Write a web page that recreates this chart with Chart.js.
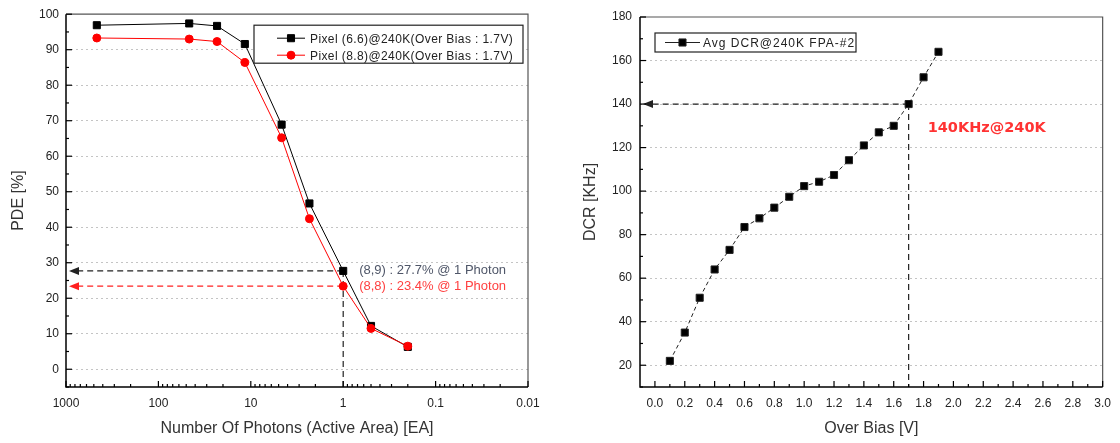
<!DOCTYPE html>
<html>
<head>
<meta charset="utf-8">
<script src="https://cdn.jsdelivr.net/npm/chart.js@4.4.1/dist/chart.umd.min.js"></script>
<style>
html, body { margin: 0; padding: 0; background: #fff; }
#wrap { display: flex; width: 1120px; height: 443px; }
canvas { display: block; }
</style>
</head>
<body>
<div id="wrap">
	<canvas id="pde" width="560" height="443"></canvas>
	<canvas id="dcr" width="560" height="443"></canvas>
</div>
<script>
// left panel: PDE vs number of photons
var photons = [464, 46.4, 23.2, 11.6, 4.64, 2.32, 1, 0.5, 0.2];
var pde66 = [96.9, 97.4, 96.7, 91.6, 68.9, 46.7, 27.7, 12.2, 6.3];
var pde88 = [93.3, 93.0, 92.3, 86.4, 65.2, 42.4, 23.4, 11.5, 6.5];
var photonTicks = [1000, 100, 10, 1, 0.1, 0.01];
var pdeTicks = [0, 10, 20, 30, 40, 50, 60, 70, 80, 90, 100];

// right panel: DCR vs over bias
var overBias = [0.1, 0.2, 0.3, 0.4, 0.5, 0.6, 0.7, 0.8, 0.9, 1.0, 1.1, 1.2, 1.3, 1.4, 1.5, 1.6, 1.7, 1.8, 1.9];
var dcr = [22, 35, 51, 64, 73, 83.5, 87.5, 92.4, 97.4, 102.3, 104.3, 107.4, 114.2, 121, 127, 130, 140, 152.3, 164];
var biasTicks = [0.0, 0.2, 0.4, 0.6, 0.8, 1.0, 1.2, 1.4, 1.6, 1.8, 2.0, 2.2, 2.4, 2.6, 2.8, 3.0];
var dcrTicks = [20, 40, 60, 80, 100, 120, 140, 160, 180];

var FONT = 'Liberation Sans, Arial, sans-serif';

// minor tick values
var photonMinor = [];
[0.01, 0.1, 1, 10, 100].forEach(function(d) {
	for (var k = 2; k <= 9; k++) photonMinor.push(k * d);
});
var pdeMinor = [-5, 5, 15, 25, 35, 45, 55, 65, 75, 85, 95];
var biasMinor = [];
for (var b = 1; b < 30; b += 2) biasMinor.push(b / 10);
var dcrMinor = [10, 30, 50, 70, 90, 110, 130, 150, 170];

var panelDecor = {
	id: 'panelDecor',
	beforeDatasetsDraw: function(chart, args, opts) {
		var ctx = chart.ctx, a = chart.chartArea, xs = chart.scales.x, ys = chart.scales.y;
		(opts.guides || []).forEach(function(g) {
			var px = xs.getPixelForValue(g.x), py = ys.getPixelForValue(g.y);
			ctx.save();
			ctx.strokeStyle = g.color;
			ctx.fillStyle = g.color;
			ctx.lineWidth = 1.2;
			ctx.setLineDash([6, 4]);
			ctx.beginPath();
			ctx.moveTo(px, py);
			ctx.lineTo(a.left + 10, py);
			ctx.stroke();
			if (g.down) {
				ctx.strokeStyle = '#222';
				ctx.beginPath();
				ctx.moveTo(px, py);
				ctx.lineTo(px, a.bottom);
				ctx.stroke();
			}
			ctx.setLineDash([]);
			ctx.beginPath();
			ctx.moveTo(a.left + 3, py);
			ctx.lineTo(a.left + 13, py - 4);
			ctx.lineTo(a.left + 13, py + 4);
			ctx.closePath();
			ctx.fill();
			ctx.restore();
		});
		(opts.notes || []).forEach(function(n) {
			var px = xs.getPixelForValue(n.x) + n.dx, py = ys.getPixelForValue(n.y);
			ctx.save();
			ctx.font = n.font;
			ctx.fillStyle = n.color;
			ctx.textAlign = 'left';
			ctx.textBaseline = 'middle';
			ctx.fillText(n.text, px, py);
			ctx.restore();
		});
	},
	afterDraw: function(chart, args, opts) {
		var ctx = chart.ctx, a = chart.chartArea, xs = chart.scales.x, ys = chart.scales.y;
		ctx.save();
		// frame
		ctx.strokeStyle = '#555';
		ctx.lineWidth = 1.2;
		ctx.beginPath();
		ctx.moveTo(a.left, a.top);
		ctx.lineTo(a.right, a.top);
		ctx.lineTo(a.right, a.bottom);
		ctx.stroke();
		ctx.strokeStyle = '#000';
		ctx.lineWidth = 1.5;
		ctx.beginPath();
		ctx.moveTo(a.left, a.top);
		ctx.lineTo(a.left, a.bottom);
		ctx.lineTo(a.right, a.bottom);
		ctx.stroke();
		// inward ticks
		ctx.lineWidth = 1.2;
		var tickX = function(v, len) {
			var p = xs.getPixelForValue(v);
			ctx.beginPath(); ctx.moveTo(p, a.bottom); ctx.lineTo(p, a.bottom - len); ctx.stroke();
		};
		var tickY = function(v, len) {
			var p = ys.getPixelForValue(v);
			ctx.beginPath(); ctx.moveTo(a.left, p); ctx.lineTo(a.left + len, p); ctx.stroke();
		};
		xs.ticks.forEach(function(t) { tickX(t.value, 6); });
		(opts.minorX || []).forEach(function(v) { tickX(v, 3); });
		ys.ticks.forEach(function(t) { tickY(t.value, 6); });
		(opts.minorY || []).forEach(function(v) { tickY(v, 3); });

		// legend
		var L = opts.legend;
		if (L) {
			var bx = a.left + L.left, by = a.top + L.top;
			ctx.fillStyle = '#fff';
			ctx.fillRect(bx, by, L.width, L.height);
			ctx.strokeStyle = '#222';
			ctx.lineWidth = 1.2;
			ctx.strokeRect(bx, by, L.width, L.height);
			chart.data.datasets.forEach(function(ds, i) {
				var cy = by + L.first + i * L.row;
				ctx.strokeStyle = ds.borderColor;
				ctx.fillStyle = ds.backgroundColor;
				ctx.lineWidth = 1;
				ctx.beginPath();
				ctx.moveTo(bx + L.lineFrom, cy);
				ctx.lineTo(bx + L.lineTo, cy);
				ctx.stroke();
				Chart.helpers.drawPoint(ctx, {pointStyle: ds.pointStyle, radius: ds.pointRadius, borderWidth: 1}, bx + (L.lineFrom + L.lineTo) / 2, cy);
				ctx.fillStyle = '#222';
				ctx.font = L.font;
				ctx.letterSpacing = L.spacing || '0px';
				ctx.textAlign = 'left';
				ctx.textBaseline = 'middle';
				ctx.fillText(ds.label, bx + L.textX, cy + 1);
				ctx.letterSpacing = '0px';
			});
		}
		ctx.restore();
	}
};

var tickFont = { family: FONT, size: 12 };
var titleFont = { family: FONT, size: 16 };

var pdeChart = new Chart(document.getElementById('pde'), {
	type: 'line',
	data: {
		datasets: [{
			label: 'Pixel (6.6)@240K(Over Bias : 1.7V)',
			data: photons.map(function(x, i) { return { x: x, y: pde66[i] }; }),
			borderColor: '#000',
			backgroundColor: '#000',
			borderWidth: 1,
			pointStyle: 'rect',
			pointRadius: 5,
			order: 1
		}, {
			label: 'Pixel (8.8)@240K(Over Bias : 1.7V)',
			data: photons.map(function(x, i) { return { x: x, y: pde88[i] }; }),
			borderColor: '#ff0000',
			backgroundColor: '#ff0000',
			borderWidth: 1,
			pointStyle: 'circle',
			pointRadius: 4,
			order: 0
		}]
	},
	options: {
		responsive: false,
		animation: false,
		devicePixelRatio: 1,
		layout: { padding: { top: 14, right: 32, left: 0, bottom: 0 } },
		plugins: {
			legend: { display: false },
			tooltip: { enabled: false },
			panelDecor: {
				minorX: photonMinor,
				minorY: pdeMinor,
				guides: [
					{ x: 1, y: 27.7, color: '#222', down: true },
					{ x: 1, y: 23.4, color: '#ff2020', down: false }
				],
				notes: [
					{ x: 1, y: 27.7, dx: 16, text: '(8,9) : 27.7% @ 1 Photon', color: '#4f5668', font: '13px ' + FONT },
					{ x: 1, y: 23.4, dx: 16, text: '(8,8) : 23.4% @ 1 Photon', color: '#ff4040', font: '13px ' + FONT }
				],
				legend: { left: 188, top: 11, width: 269, height: 38, first: 13, row: 17, lineFrom: 23, lineTo: 51, textX: 56, font: '12px ' + FONT, spacing: '0.4px' }
			}
		},
		scales: {
			x: {
				type: 'logarithmic',
				reverse: true,
				min: 0.01,
				max: 1000,
				afterBuildTicks: function(s) { s.ticks = photonTicks.map(function(v) { return { value: v }; }); },
				afterFit: function(s) { s.height = 56; },
				grid: { display: false, drawTicks: false },
				border: { display: false },
				ticks: {
					autoSkip: false, maxRotation: 0, padding: 9, color: '#222', font: tickFont,
					callback: function(v) { return String(v); }
				},
				title: { display: true, text: 'Number Of Photons (Active Area) [EA]', color: '#333', font: titleFont, padding: { top: 0, bottom: 5 } }
			},
			y: {
				min: -5,
				max: 100,
				afterBuildTicks: function(s) { s.ticks = pdeTicks.map(function(v) { return { value: v }; }); },
				afterFit: function(s) { s.width = 66; },
				grid: { drawTicks: false, color: function(c) { return c.tick && c.tick.value === 100 ? 'rgba(0,0,0,0)' : '#c4c4c4'; }, lineWidth: 1 },
				border: { display: false, dash: [2, 3] },
				ticks: { padding: 7, color: '#222', font: tickFont },
				title: { display: true, text: 'PDE [%]', color: '#333', font: titleFont, padding: { top: 9, bottom: 0 } }
			}
		}
	},
	plugins: [panelDecor]
});

var dcrChart = new Chart(document.getElementById('dcr'), {
	type: 'line',
	data: {
		datasets: [{
			label: 'Avg DCR@240K FPA-#2',
			data: overBias.map(function(x, i) { return { x: x, y: dcr[i] }; }),
			borderColor: '#222',
			backgroundColor: '#000',
			borderWidth: 1,
			borderDash: [4, 3],
			pointStyle: 'rect',
			pointRadius: 5
		}]
	},
	options: {
		responsive: false,
		animation: false,
		devicePixelRatio: 1,
		layout: { padding: { top: 17, right: 13, left: 0, bottom: 0 } },
		plugins: {
			legend: { display: false },
			tooltip: { enabled: false },
			panelDecor: {
				minorX: biasMinor,
				minorY: dcrMinor,
				guides: [
					{ x: 1.7, y: 140, color: '#222', down: true }
				],
				notes: [
					{ x: 1.7, y: 129, dx: 19, text: '140KHz@240K', color: '#ff3333', font: 'bold 14.5px DejaVu Sans, sans-serif' }
				],
				legend: { left: 15, top: 16, width: 201, height: 19, first: 9.5, row: 17, lineFrom: 10, lineTo: 45, textX: 48, font: '12px ' + FONT, spacing: '1px' }
			}
		},
		scales: {
			x: {
				type: 'linear',
				min: -0.1,
				max: 3.0,
				afterBuildTicks: function(s) { s.ticks = biasTicks.map(function(v) { return { value: v }; }); },
				afterFit: function(s) { s.height = 56; },
				grid: { display: false, drawTicks: false },
				border: { display: false },
				ticks: {
					autoSkip: false, maxRotation: 0, padding: 9, color: '#222', font: tickFont,
					callback: function(v) { return Number(v).toFixed(1); }
				},
				title: { display: true, text: 'Over Bias [V]', color: '#333', font: titleFont, padding: { top: 0, bottom: 5 } }
			},
			y: {
				min: 10,
				max: 180,
				afterBuildTicks: function(s) { s.ticks = dcrTicks.map(function(v) { return { value: v }; }); },
				afterFit: function(s) { s.width = 80; },
				grid: { drawTicks: false, color: function(c) { return c.tick && c.tick.value === 180 ? 'rgba(0,0,0,0)' : '#c4c4c4'; }, lineWidth: 1 },
				border: { display: false, dash: [2, 3] },
				ticks: { padding: 8, color: '#222', font: tickFont },
				title: { display: true, text: 'DCR [KHz]', color: '#333', font: titleFont, padding: { top: 21, bottom: 0 } }
			}
		}
	},
	plugins: [panelDecor]
});
</script>
</body>
</html>
